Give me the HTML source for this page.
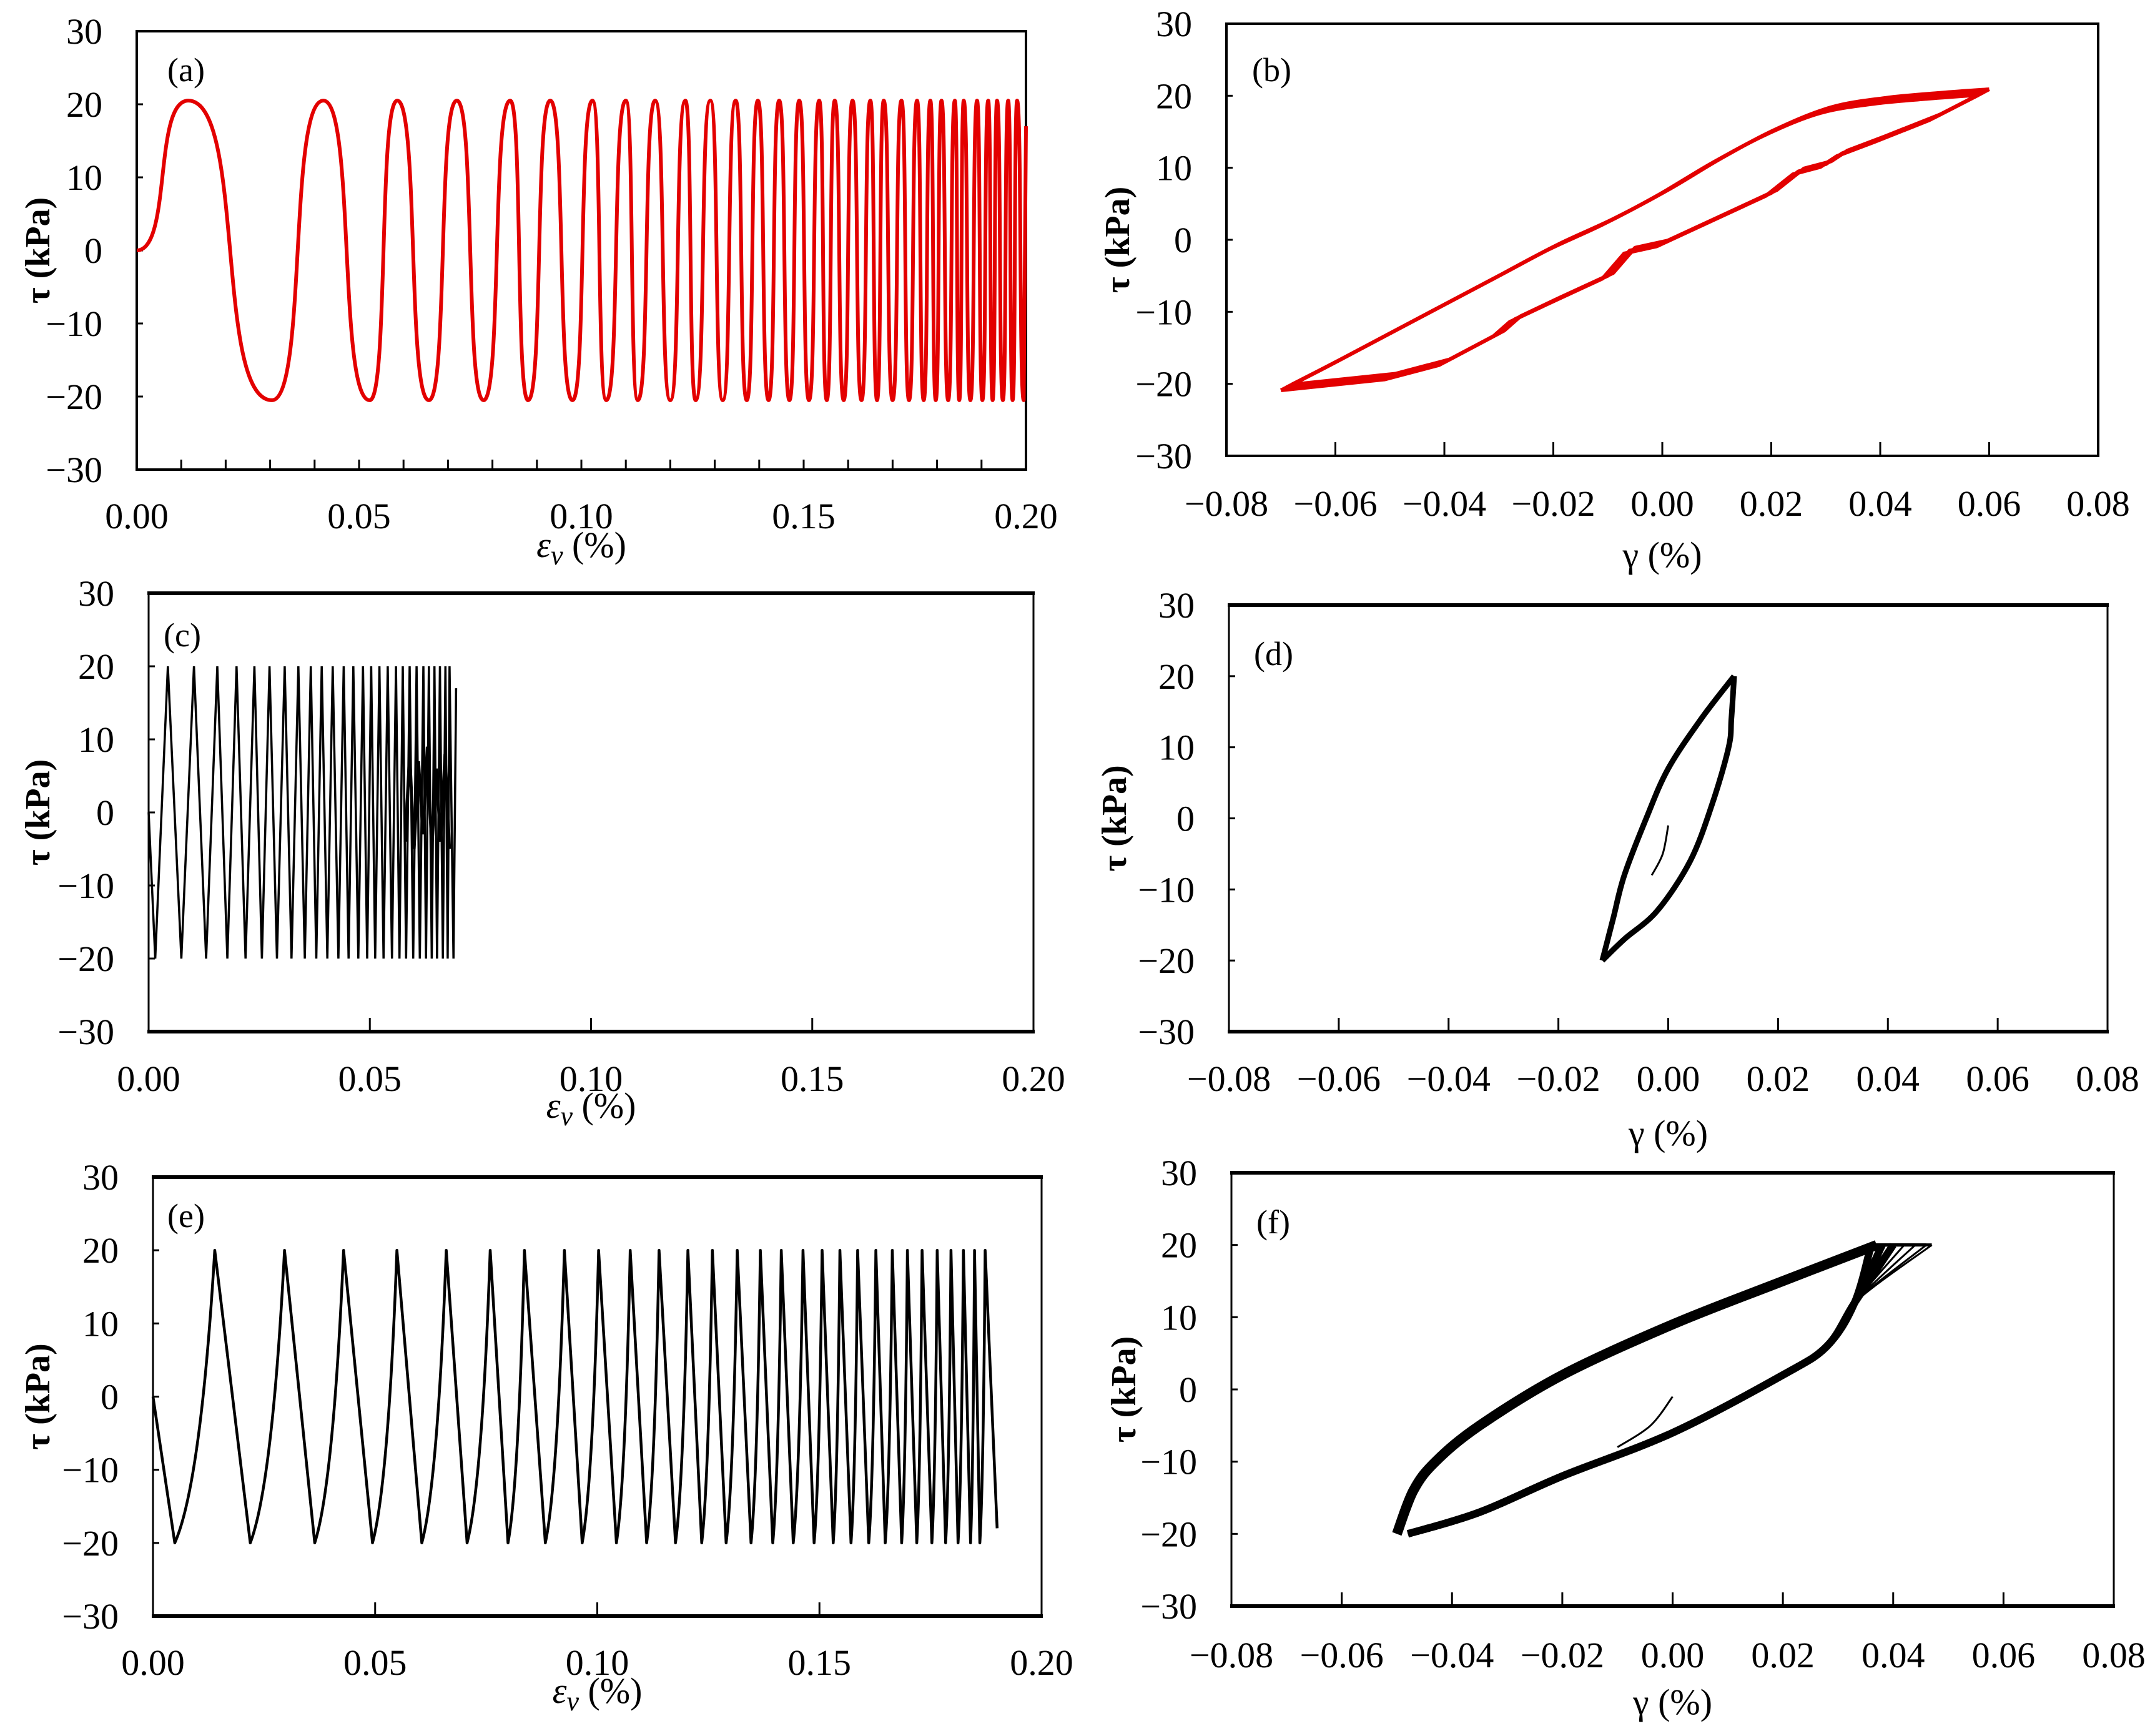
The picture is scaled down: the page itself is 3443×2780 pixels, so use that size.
<!DOCTYPE html>
<html><head><meta charset="utf-8">
<style>
html,body{margin:0;padding:0;background:#fff;}
svg{display:block;}
svg text{font-family:"Liberation Serif","Times New Roman",serif;fill:#000;}
</style></head>
<body>
<svg id="fig" width="3443" height="2780" viewBox="0 0 3443 2780" xmlns="http://www.w3.org/2000/svg" font-family="Liberation Serif, serif"></svg>
<script>
// ---- data (a)
const peaksA = [0.0116,0.042,0.0586,0.072,0.084,0.093,0.1025,0.110,0.1166,0.1234,0.129,0.1347,0.1397,0.1445,0.149,0.1535,0.157,0.161,0.165,0.168,0.172,0.1755,0.1785,0.181,0.184,0.186,0.189,0.1915,0.1935,0.196,0.198];
const troughsA = [0.0304,0.0524,0.0657,0.078,0.088,0.098,0.1056,0.1127,0.12,0.1257,0.1318,0.1372,0.1421,0.1468,0.1512,0.1552,0.159,0.163,0.1665,0.170,0.1737,0.177,0.1797,0.1825,0.185,0.1875,0.1902,0.1925,0.1948,0.197,0.1995];
const ampA = 20.5;
// ---- data (b)
const bUpperX = [-0.069,-0.060,-0.050,-0.040,-0.030,-0.020,-0.010,0.000,0.010,0.020,0.030,0.040,0.050,0.059];
const bUpperY = [-20.5,-17,-13,-9,-5,-1,2.5,6.5,11,15,18,19.3,20,20.5];
const bLowerX = [0.059,0.050,0.040,0.033,0.030,0.025,0.020,0.010,0.000,-0.006,-0.010,-0.020,-0.027,-0.030,-0.040,-0.050,-0.069];
const bLowerY = [20.5,17,14,12,10.5,9.5,6.5,3,-0.5,-1.5,-5,-8.5,-11,-13,-17,-19,-20.5];
// ---- data (c)
const peaksC = [0.00435,0.01025,0.01553,0.01988,0.02391,0.02733,0.03075,0.03385,0.03665,0.03913,0.04161,0.0441,0.04627,0.04845,0.05031,0.05217,0.05404,0.0559,0.05745,0.059,0.06056,0.06211,0.06335,0.0646,0.06584,0.06708,0.06801];
const troughsC = [0.0015,0.0074,0.0130,0.0178,0.0219,0.0256,0.029,0.0323,0.0353,0.0379,0.0404,0.0429,0.0452,0.0474,0.0494,0.0512,0.0531,0.055,0.0567,0.0582,0.0598,0.0613,0.0627,0.0640,0.0652,0.0665,0.0676,0.0689];
const blobX = [0.058,0.059,0.060,0.061,0.062,0.063,0.064,0.065,0.066,0.067,0.068];
const blobY = [-4,8,-5,7,-3,9,-5,6,-4,8,-5];
// ---- data (d)
const dUpperX = [-0.012,-0.010,-0.008,-0.004,0.000,0.006,0.012];
const dUpperY = [-20,-14,-8,0,7,14,20];
const dLowerX = [0.012,0.0115,0.011,0.008,0.004,-0.002,-0.008,-0.012];
const dLowerY = [20,14,10,2,-6,-13,-17,-20];
const dInitX = [0.000,-0.001,-0.003];
const dInitY = [-1,-5,-8];
// ---- data (e)
const peaksE = [0.0139,0.0296,0.0429,0.0549,0.066,0.0759,0.0836,0.0926,0.1003,0.1074,0.1139,0.1204,0.1259,0.1315,0.1367,0.1414,0.1463,0.1506,0.1546,0.1586,0.1627,0.1664,0.1698,0.1731,0.1765,0.1796,0.1824,0.1849,0.1873];
const troughsE = [0.0049,0.0219,0.0364,0.0494,0.0605,0.0707,0.0799,0.0883,0.0966,0.1043,0.1111,0.1176,0.1235,0.129,0.1346,0.1395,0.1441,0.1488,0.1531,0.1571,0.1611,0.1648,0.1685,0.1719,0.1753,0.1784,0.1812,0.1840,0.1861];
// ---- data (f)
const fUpperX = [-0.050,-0.047,-0.043,-0.035,-0.020,0.000,0.020,0.037];
const fUpperY = [-20,-14,-10,-5,2,9,15,20];
const fLowerX = [0.033,0.028,0.020,0.000,-0.020,-0.035,-0.048];
const fLowerY = [12,6,2,-6,-12,-17,-20];
const fPeakX = [0.036,0.038,0.040,0.042,0.044,0.046,0.047];
const fInitX = [0.000,-0.004,-0.010];
const fInitY = [-1,-5,-8];
// ---- ticks
const yTicks = [-30,-20,-10,0,10,20,30];
const evTicks = [0.00,0.05,0.10,0.15,0.20];
const gTicks = [-0.08,-0.06,-0.04,-0.02,0.00,0.02,0.04,0.06,0.08];

const NS = "http://www.w3.org/2000/svg";
const fig = document.getElementById('fig');
function el(tag, attrs, parent){
  const e = document.createElementNS(NS, tag);
  for (const k in attrs) e.setAttribute(k, attrs[k]);
  (parent||fig).appendChild(e);
  return e;
}

const panels = {
 a:{L:219,T:50,R:1643,B:752,xmin:0,xmax:0.2,ticks:evTicks,minor:0.01,tickLen:16,xlab:826,xtitle:872,ytx:61,ev:true,lx:268,ly:130,side:4,tb:4},
 b:{L:1964,T:38,R:3360,B:730,xmin:-0.08,xmax:0.08,ticks:gTicks,minor:0.02,tickLen:22,xlab:806,xtitle:888,ytx:1790,ev:false,lx:2005,ly:130,side:4,tb:4},
 c:{L:238,T:950,R:1655,B:1652,xmin:0,xmax:0.2,ticks:evTicks,minor:0.05,tickLen:22,xlab:1727,xtitle:1770,ytx:61,ev:true,lx:262,ly:1035,side:3,tb:6},
 d:{L:1968,T:969,R:3375,B:1652,xmin:-0.08,xmax:0.08,ticks:gTicks,minor:0.02,tickLen:22,xlab:1727,xtitle:1814,ytx:1785,ev:false,lx:2008,ly:1065,side:3,tb:6},
 e:{L:245,T:1885,R:1668,B:2588,xmin:0,xmax:0.2,ticks:evTicks,minor:0.05,tickLen:22,xlab:2662,xtitle:2707,ytx:61,ev:true,lx:268,ly:1965,side:3,tb:6},
 f:{L:1972,T:1878,R:3385,B:2572,xmin:-0.08,xmax:0.08,ticks:gTicks,minor:0.02,tickLen:22,xlab:2650,xtitle:2725,ytx:1800,ev:false,lx:2012,ly:1975,side:3,tb:6}
};
function sx(p,v){return p.L+(v-p.xmin)/(p.xmax-p.xmin)*(p.R-p.L);}
function sy(p,v){return p.B-(v+30)/60*(p.B-p.T);}
function fmt(v){const s=Math.abs(v).toFixed(2);return (v<-1e-9?'\u2212':'')+s;}
const FF='Liberation Serif, Times New Roman, serif';

function drawAxes(key){
  const p=panels[key];
  const g=el('g',{'font-family':FF});
  
  
  const top=el('line',{x1:p.L-2,y1:p.T,x2:p.R+2,y2:p.T,stroke:'#000','stroke-width':p.tb},g);
  
  
  const bot=el('line',{x1:p.L-2,y1:p.B,x2:p.R+2,y2:p.B,stroke:'#000','stroke-width':p.tb},g);
  
  
  const lf=el('line',{x1:p.L,y1:p.T,x2:p.L,y2:p.B,stroke:'#000','stroke-width':p.side},g);
  
  
  const rt=el('line',{x1:p.R,y1:p.T,x2:p.R,y2:p.B,stroke:'#000','stroke-width':p.side},g);
  
  
  const n=Math.round((p.xmax-p.xmin)/p.minor);
  for(let i=1;i<n;i++){
    const x=sx(p,p.xmin+i*p.minor);
    const t=el('line',{x1:x,y1:p.B,x2:x,y2:p.B-p.tickLen,stroke:'#000','stroke-width':3},g);
    
    
  }
  yTicks.forEach(v=>{
    const y=sy(p,v);
    const t=el('line',{x1:p.L,y1:y,x2:p.L+10,y2:y,stroke:'#000','stroke-width':3},g);
    
    
    const tx=el('text',{x:p.L-55,y:y+20,'font-size':58,'text-anchor':'end','font-family':FF},g);
    tx.textContent=(v<0?'\u2212':'')+Math.abs(v);
    
    
  });
  p.ticks.forEach(v=>{
    const tx=el('text',{x:sx(p,v),y:p.xlab+20,'font-size':58,'text-anchor':'middle','font-family':FF},g);
    tx.textContent=fmt(v);
    
    
  });
  const xt=el('text',{x:(p.L+p.R)/2,y:p.xtitle+20,'font-size':58,'text-anchor':'middle','font-family':FF},g);
  if(p.ev){
    const a=el('tspan',{'font-style':'italic'},xt); a.textContent='\u03b5';
    const b=el('tspan',{'font-style':'italic','font-size':44,dy:12},xt); b.textContent='v';
    const c=el('tspan',{dy:-12},xt); c.textContent=' (%)';
  } else { xt.textContent='\u03b3 (%)'; }
  
  
  const cy=(p.T+p.B)/2;
  const yt=el('text',{x:p.ytx+18,y:cy,'font-size':56,'font-weight':'bold','text-anchor':'middle','font-family':FF,transform:'rotate(-90 '+(p.ytx+18)+' '+cy+')'},g);
  yt.textContent='\u03c4 (kPa)';
  
  
  const lt=el('text',{x:p.lx,y:p.ly,'font-size':54,'font-family':FF},g);
  lt.textContent='('+key+')';
  
  
}
Object.keys(panels).forEach(drawAxes);

function polyPath(p,xs,ys){
  return xs.map((x,i)=>(i?'L':'M')+sx(p,x).toFixed(1)+' '+sy(p,ys[i]).toFixed(1)).join(' ');
}
function smoothPath(p,xs,ys){
  const P=xs.map((x,i)=>[sx(p,x),sy(p,ys[i])]);
  let d='M'+P[0][0]+' '+P[0][1];
  for(let i=0;i<P.length-1;i++){
    const p0=P[Math.max(0,i-1)],p1=P[i],p2=P[i+1],p3=P[Math.min(P.length-1,i+2)];
    const c1=[p1[0]+(p2[0]-p0[0])/6,p1[1]+(p2[1]-p0[1])/6];
    const c2=[p2[0]-(p3[0]-p1[0])/6,p2[1]-(p3[1]-p1[1])/6];
    d+=' C'+c1[0].toFixed(1)+' '+c1[1].toFixed(1)+' '+c2[0].toFixed(1)+' '+c2[1].toFixed(1)+' '+p2[0].toFixed(1)+' '+p2[1].toFixed(1);
  }
  return d;
}

// ---- (a) series
(function(){
  const p=panels.a;
  const ex=[0],ey=[0];
  peaksA.forEach((x,i)=>{ex.push(x);ey.push(ampA);if(i<troughsA.length){ex.push(troughsA[i]);ey.push(-ampA);}});
  let d='M'+sx(p,0)+' '+sy(p,0);
  for(let i=1;i<ex.length;i++){
    const x0=sx(p,ex[i-1]),y0=sy(p,ey[i-1]),x1=sx(p,ex[i]),y1=sy(p,ey[i]);
    const dx=x1-x0;
    d+=' C'+(x0+0.68*dx).toFixed(1)+' '+y0.toFixed(1)+' '+(x1-0.68*dx).toFixed(1)+' '+y1.toFixed(1)+' '+x1.toFixed(1)+' '+y1.toFixed(1);
  }
  d+=' L'+sx(p,0.2)+' '+sy(p,17);
  const path=el('path',{d:d,fill:'none',stroke:'#e30000','stroke-width':6,'stroke-linejoin':'round'});
  
  
})();

// ---- (b) series
(function(){
  const p=panels.b;
  [[0,0],[0.001,0.4],[-0.001,-0.4]].forEach(o=>{
    const xs=bUpperX.map(v=>v+o[0]), ys=bUpperY.map(v=>v+o[1]);
    const u=el('path',{d:smoothPath(p,xs,ys),fill:'none',stroke:'#e30000','stroke-width':6});
    
    
    const lx=bLowerX.map(v=>v+o[0]), ly=bLowerY.map(v=>v+o[1]);
    const l=el('path',{d:polyPath(p,lx,ly),fill:'none',stroke:'#e30000','stroke-width':6,'stroke-linejoin':'round'});
    
    
  });
})();

// ---- (c) series
(function(){
  const p=panels.c;
  const xs=[0],ys=[0];
  troughsC.forEach((x,i)=>{xs.push(x);ys.push(-20);if(i<peaksC.length){xs.push(peaksC[i]);ys.push(20);}});
  xs.push(0.0695);ys.push(17);
  const path=el('path',{d:polyPath(p,xs,ys),fill:'none',stroke:'#000','stroke-width':3.5});
  
  
  const blob=el('path',{d:polyPath(p,blobX,blobY),fill:'none',stroke:'#000','stroke-width':5});
  
  
})();

// ---- (d) series
(function(){
  const p=panels.d;
  const u=el('path',{d:smoothPath(p,dUpperX,dUpperY),fill:'none',stroke:'#000','stroke-width':9});
  
  
  const l=el('path',{d:smoothPath(p,dLowerX,dLowerY),fill:'none',stroke:'#000','stroke-width':9});
  
  
  const i0=el('path',{d:smoothPath(p,dInitX,dInitY),fill:'none',stroke:'#000','stroke-width':3});
  
  
})();

// ---- (e) series
(function(){
  const p=panels.e;
  let d='M'+sx(p,0)+' '+sy(p,0)+' L'+sx(p,troughsE[0]).toFixed(1)+' '+sy(p,-20).toFixed(1);
  for(let i=0;i<peaksE.length;i++){
    const xt=sx(p,troughsE[i]),xp=sx(p,peaksE[i]);
    d+=' Q'+(xt+0.65*(xp-xt)).toFixed(1)+' '+sy(p,-12).toFixed(1)+' '+xp.toFixed(1)+' '+sy(p,20).toFixed(1);
    if(i+1<troughsE.length) d+=' L'+sx(p,troughsE[i+1]).toFixed(1)+' '+sy(p,-20).toFixed(1);
  }
  d+=' L'+sx(p,0.19).toFixed(1)+' '+sy(p,-18).toFixed(1);
  const path=el('path',{d:d,fill:'none',stroke:'#000','stroke-width':4.5,'stroke-linejoin':'round'});
  
  
})();

// ---- (f) series
(function(){
  const p=panels.f;
  const u=el('path',{d:smoothPath(p,fUpperX,fUpperY),fill:'none',stroke:'#000','stroke-width':16});
  
  
  fPeakX.forEach((px,k)=>{
    const xs=[px].concat(fLowerX), ys=[20].concat(fLowerY);
    const l=el('path',{d:smoothPath(p,xs,ys),fill:'none',stroke:'#000','stroke-width':k<3?12:3});
    
    
    const c=el('line',{x1:sx(p,0.036),y1:sy(p,20),x2:sx(p,px),y2:sy(p,20),stroke:'#000','stroke-width':5});
    
    
  });
  const i0=el('path',{d:smoothPath(p,fInitX,fInitY),fill:'none',stroke:'#000','stroke-width':3});
  
  
})();
</script>
</body></html>
